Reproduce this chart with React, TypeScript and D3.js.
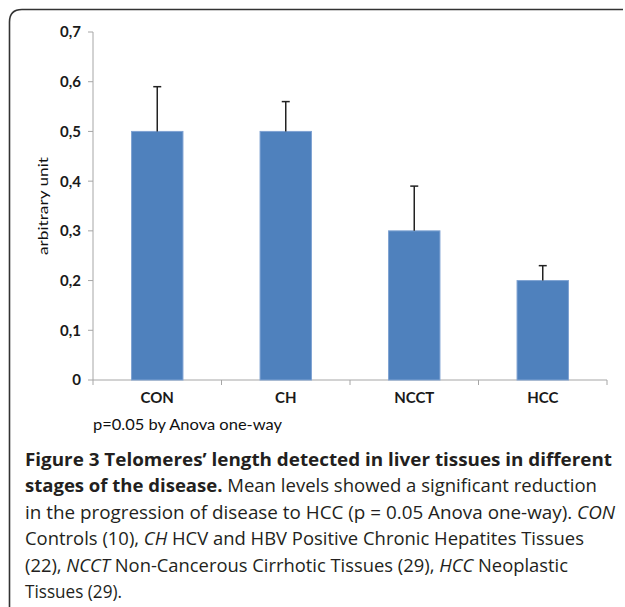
import React from "react";
import * as d3 from "d3";

const categories = ["CON", "CH", "NCCT", "HCC"];
const means = [0.5, 0.5, 0.3, 0.2];
const errors = [0.09, 0.06, 0.09, 0.03];
const yTicks = [0, 0.1, 0.2, 0.3, 0.4, 0.5, 0.6, 0.7];
const yTickLabels = ["0", "0,1", "0,2", "0,3", "0,4", "0,5", "0,6", "0,7"];
const yAxisTitle = "arbitrary unit";
const footnote = "p=0.05 by Anova one-way";

type Seg = { t: string; w?: "b" | "i" };
const captionLines: Seg[][] = [
  [{ t: "Figure 3 Telomeres\u2019 length detected in liver tissues in different", w: "b" }],
  [{ t: "stages of the disease.", w: "b" }, { t: " Mean levels showed a significant reduction" }],
  [{ t: "in the progression of disease to HCC (p = 0.05 Anova one-way). " }, { t: "CON", w: "i" }],
  [{ t: "Controls (10), " }, { t: "CH", w: "i" }, { t: " HCV and HBV Positive Chronic Hepatites Tissues" }],
  [{ t: "(22), " }, { t: "NCCT", w: "i" }, { t: " Non-Cancerous Cirrhotic Tissues (29), " }, { t: "HCC", w: "i" }, { t: " Neoplastic" }],
  [{ t: "Tissues (29)." }],
];
const captionWidths = [587, 572, 590, 559, 543, 97];

export default function App() {
  const W = 625;
  const H = 607;
  const x0 = 93;
  const x1 = 607;
  const y = d3.scaleLinear().domain([0, 0.7]).range([380, 32]);
  const x = d3.scaleBand<string>().domain(categories).range([x0, x1]).paddingInner(0.6).paddingOuter(0.3);
  const step = x.step();
  const bw = x.bandwidth();
  const boundaries = [x0, ...categories.map((c) => (x(c) as number) + bw / 2 + step / 2)];
  const chartFont = "Lato, 'Open Sans', sans-serif";
  const capFont = "'Open Sans', sans-serif";
  const axisColor = "#a6a6a6";

  return (
    <svg width={W} height={H} style={{ position: "absolute", left: 0, top: 0, background: "#fff" }}>
      {/* frame */}
      <path d={`M9.5,${H + 5} L9.5,22 Q9.5,9.5 22,9.5 L623,9.5`} fill="none" stroke="#333" strokeWidth={1.6} />

      {/* y axis */}
      <line x1={x0} x2={x0} y1={y(0.7)} y2={y(0)} stroke={axisColor} strokeWidth={1} />
      {yTicks.map((t, i) => (
        <g key={t}>
          <line x1={x0 - 5} x2={x0} y1={y(t)} y2={y(t)} stroke={axisColor} />
          <text x={81} y={y(t)} dy="0.36em" textAnchor="end" fontFamily={chartFont} fontWeight={700} fontSize={15} fill="#1a1a1a">
            {yTickLabels[i]}
          </text>
        </g>
      ))}
      {/* x axis */}
      <line x1={x0} x2={x1} y1={y(0)} y2={y(0)} stroke={axisColor} />
      {boundaries.map((b, i) => (
        <line key={i} x1={b} x2={b} y1={y(0)} y2={y(0) + 5} stroke={axisColor} />
      ))}

      {/* bars */}
      {categories.map((c, i) => (
        <g key={c}>
          <rect x={x(c)} y={y(means[i])} width={bw} height={y(0) - y(means[i])} fill="#4f81bd" stroke="#7fa2d2" strokeWidth={1} />
          <line x1={(x(c) as number) + bw / 2} x2={(x(c) as number) + bw / 2} y1={y(means[i])} y2={y(means[i] + errors[i])} stroke="#222" strokeWidth={1.5} />
          <line x1={(x(c) as number) + bw / 2 - 4} x2={(x(c) as number) + bw / 2 + 4} y1={y(means[i] + errors[i])} y2={y(means[i] + errors[i])} stroke="#222" strokeWidth={1.5} />
          <text x={(x(c) as number) + bw / 2} y={398} dy="0.36em" textAnchor="middle" fontFamily={chartFont} fontWeight={700} fontSize={15} fill="#1a1a1a">
            {c}
          </text>
        </g>
      ))}

      {/* y title */}
      <text transform="translate(43,206) rotate(-90)" dy="0.35em" textAnchor="middle" fontFamily={chartFont} fontSize={14} fill="#111" textLength={98} lengthAdjust="spacingAndGlyphs">
        {yAxisTitle}
      </text>
      {/* footnote */}
      <text x={93} y={425} dy="0.35em" fontFamily={chartFont} fontSize={15} fill="#111" textLength={189} lengthAdjust="spacingAndGlyphs">
        {footnote}
      </text>

      {/* caption */}
      {captionLines.map((line, i) => (
        <text key={i} x={25} y={466 + i * 26.4} fontFamily={capFont} fontSize={18} fill="#231f20" textLength={captionWidths[i]} lengthAdjust="spacingAndGlyphs">
          {line.map((s, j) => (
            <tspan key={j} fontWeight={s.w === "b" ? 700 : 400} fontStyle={s.w === "i" ? "italic" : "normal"}>
              {s.t}
            </tspan>
          ))}
        </text>
      ))}
    </svg>
  );
}
